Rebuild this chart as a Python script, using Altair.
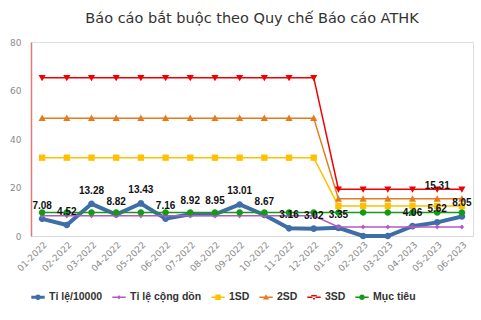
import altair as alt
import pandas as pd

months = ["01-2022", "02-2022", "03-2022", "04-2022", "05-2022", "06-2022",
          "07-2022", "08-2022", "09-2022", "10-2022", "11-2022", "12-2022",
          "01-2023", "02-2023", "03-2023", "04-2023", "05-2023", "06-2023"]

series_names = ["Tỉ lệ/10000", "Tỉ lệ cộng dồn", "1SD", "2SD", "3SD", "Mục tiêu"]

rate = [7.08, 4.52, 13.28, 8.82, 13.43, 7.16, 8.92, 8.95, 13.01, 8.67, 3.16, 3.02,
        3.35, 0.0, 0.0, 4.06, 5.62, 8.05]
cumulative = [8.3, 8.3, 8.3, 8.3, 8.3, 8.3, 8.3, 8.3, 8.3, 8.3, 8.3, 8.3,
              3.7, 3.7, 3.7, 3.7, 3.7, 3.7]
sd1 = [32.3, 32.3, 32.3, 32.3, 32.3, 32.3, 32.3, 32.3, 32.3, 32.3, 32.3, 32.3,
       12.4, 12.4, 12.4, 12.4, 12.4, 12.4]
sd2 = [48.6, 48.6, 48.6, 48.6, 48.6, 48.6, 48.6, 48.6, 48.6, 48.6, 48.6, 48.6,
       15.31, 15.31, 15.31, 15.31, 15.31, 15.31]
sd3 = [65.3, 65.3, 65.3, 65.3, 65.3, 65.3, 65.3, 65.3, 65.3, 65.3, 65.3, 65.3,
       19.3, 19.3, 19.3, 19.3, 19.3, 19.3]
target = [9.7, 9.7, 9.7, 9.7, 9.7, 9.7, 9.7, 9.7, 9.7, 9.7, 9.7, 9.7,
          9.7, 9.7, 9.7, 9.7, 9.7, 9.7]

# which points carry a data label (month, series)
labelled = [(m, "Tỉ lệ/10000") for m, v in zip(months, rate) if v > 0] + [("05-2023", "2SD")]

colors = ["#3d6ea8", "#b35bc4", "#ffc000", "#e47b1c", "#f00000", "#159a15"]
widths = [4, 1.5, 1.5, 1.5, 1.5, 1.5]
marker_paths = [
    "M0.42,0 A0.42,0.42 0 1,1 -0.42,0 A0.42,0.42 0 1,1 0.42,0 Z",
    "M0,-0.32 L0.28,0 L0,0.32 L-0.28,0 Z",
    "M-0.4,-0.4 L0.4,-0.4 L0.4,0.4 L-0.4,0.4 Z",
    "M0,-0.45 L0.45,0.35 L-0.45,0.35 Z",
    "M0,0.45 L0.45,-0.35 L-0.45,-0.35 Z",
    "M0.42,0 A0.42,0.42 0 1,1 -0.42,0 A0.42,0.42 0 1,1 0.42,0 Z",
]
bar_thick = " M-1,-0.22 L1,-0.22 L1,0.22 L-1,0.22 Z"
bar_thin = " M-1,-0.11 L1,-0.11 L1,0.11 L-1,0.11 Z"
legend_paths = [p + (bar_thick if i == 0 else bar_thin) for i, p in enumerate(marker_paths)]

values = [rate, cumulative, sd1, sd2, sd3, target]
rows = []
for name, vals in zip(series_names, values):
    for m, v in zip(months, vals):
        rows.append({"month": m, "series": name, "value": v,
                     "label": f"{v:.2f}" if (m, name) in labelled else ""})
df = pd.DataFrame(rows)

x_enc = alt.X("month:O", sort=months, title=None,
              scale=alt.Scale(type="point", padding=0.45),
              axis=alt.Axis(labelAngle=-45, labelColor="#8a8a8a", labelFont="DejaVu Sans",
                            labelFontSize=9, ticks=False, domainColor="#d9d9d9",
                            labelPadding=4))
y_enc = alt.Y("value:Q", title=None,
              scale=alt.Scale(domain=[0, 80], nice=False),
              axis=alt.Axis(values=[0, 20, 40, 60, 80], grid=False, ticks=False,
                            domainColor="#e07878", domainWidth=1.5,
                            labelColor="#8a8a8a", labelFont="DejaVu Sans",
                            labelFontSize=9, labelPadding=10))

legend = alt.Legend(
    orient="bottom", direction="horizontal", title=None,
    labelFont="Liberation Sans", labelFontSize=10.5, labelFontWeight="bold",
    labelColor="#333333", symbolSize=180, columnPadding=9, labelOffset=4,
    offset=17, labelLimit=200, symbolStrokeWidth=0, symbolOpacity=1,
)

color_enc = alt.Color("series:N", scale=alt.Scale(domain=series_names, range=colors),
                      legend=legend, sort=series_names)
shape_enc = alt.Shape("series:N", scale=alt.Scale(domain=series_names, range=legend_paths),
                      legend=legend, sort=series_names)

layers = []
for name, w, mp in zip(series_names, widths, marker_paths):
    sub = alt.Chart(df).transform_filter(alt.datum.series == name)
    layers.append(sub.mark_line(strokeWidth=w).encode(x=x_enc, y=y_enc, color=color_enc))
    layers.append(sub.mark_point(filled=True, opacity=1, size=250, strokeWidth=0, shape=mp)
                  .encode(x=x_enc, y=y_enc, color=color_enc))

# legend-only layer: draws nothing, supplies line+marker legend symbols
legend_layer = alt.Chart(df).transform_filter("false").mark_point(
    filled=True, opacity=1, size=180, strokeWidth=0
).encode(x=x_enc, y=y_enc, color=color_enc, shape=shape_enc)
layers.append(legend_layer)

labels = alt.Chart(df).transform_filter(alt.datum.label != "").mark_text(
    font="Liberation Sans", fontSize=10, fontWeight="bold", color="#111111", dy=-13
).encode(x=x_enc, y=y_enc, text="label:N")
layers.append(labels)

chart = alt.layer(*layers).properties(
    width=442, height=194,
    title=alt.TitleParams("Báo cáo bắt buộc theo Quy chế Báo cáo ATHK", font="DejaVu Sans",
                          fontSize=14.5, fontWeight="normal", color="#333333",
                          anchor="middle", offset=12),
    autosize=alt.AutoSizeParams(type="none"),
    padding={"left": 31, "top": 42, "right": 8, "bottom": 84},
).configure_view(stroke=None).configure(background="white")

chart.save("out.html", embed_options={"renderer": "svg", "actions": False})
